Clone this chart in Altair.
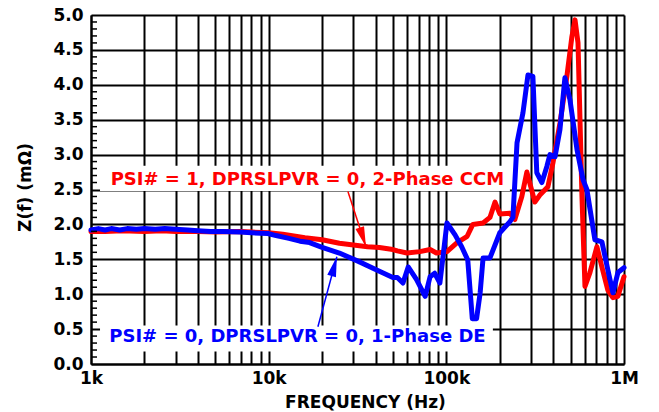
import altair as alt
import pandas as pd

# ---- series data (frequency in Hz, impedance in mOhm) ----
blue_f = [1000, 1100, 1200, 1300, 1450, 1600, 1800, 2000, 2300, 2600, 3000, 3500, 4000,
          4700, 5500, 6900, 8000, 9900, 11000, 13000, 15000, 17000, 20000, 25000, 32000,
          42000, 50000, 53000, 57000, 61000, 68000, 76000, 81000, 86000, 92000, 100800,
          112000, 122000, 132000, 140000, 148000, 155000, 161000, 176000, 200000, 228000,
          237000, 250000, 270000, 288000, 307000, 323000, 345000, 368000, 383000, 409000,
          436000, 465000, 496000, 544000, 588000, 618000, 686000, 751000, 811000, 866000,
          924000, 1000000]
blue_z = [1.92, 1.94, 1.92, 1.94, 1.92, 1.94, 1.93, 1.94, 1.93, 1.94, 1.93, 1.92, 1.91,
          1.90, 1.90, 1.89, 1.88, 1.87, 1.84, 1.80, 1.76, 1.74, 1.67, 1.59, 1.47,
          1.33, 1.24, 1.24, 1.16, 1.39, 1.21, 0.97, 1.25, 1.30, 1.16, 2.02,
          1.85, 1.68, 1.49, 0.65, 0.65, 1.02, 1.52, 1.52, 1.88, 2.04,
          2.10, 3.17, 3.60, 4.14, 4.12, 2.74, 2.60, 2.83, 3.00, 2.97,
          3.36, 4.10, 3.79, 3.07, 2.64, 2.50, 1.78, 1.75, 1.35, 1.02,
          1.31, 1.38]

red_f = [1000, 1200, 1500, 2000, 2500, 3000, 4000, 5000, 6900, 8000, 10000, 12000, 16000,
         20000, 25000, 36000, 42000, 50000, 53000, 60000, 71000, 81000, 88000, 100800,
         115000, 131000, 141000, 161000, 176000, 188000, 200000, 228000, 243000, 266000,
         284000, 315000, 336000, 373000, 398000, 436000, 477000, 509000, 530000, 551000,
         580000, 603000, 643000, 704000, 751000, 811000, 866000, 924000, 1000000]
red_z = [1.90, 1.90, 1.91, 1.90, 1.91, 1.90, 1.90, 1.89, 1.90, 1.89, 1.88, 1.86, 1.81,
         1.78, 1.73, 1.68, 1.67, 1.64, 1.62, 1.59, 1.61, 1.64, 1.59, 1.61,
         1.74, 1.83, 2.00, 2.02, 2.10, 2.32, 2.15, 2.16, 2.07, 2.40,
         2.75, 2.32, 2.42, 2.54, 2.88, 3.45, 4.12, 4.69, 4.93, 4.60,
         2.40, 1.11, 1.31, 1.68, 1.39, 1.06, 0.95, 0.97, 1.25]

# ---- axis ticks ----
x_ticks = [1000, 2000, 3000, 4000, 5000, 6000, 7000, 8000, 9000,
           10000, 20000, 30000, 40000, 50000, 60000, 70000, 80000, 90000,
           100000, 200000, 300000, 400000, 500000, 600000, 700000, 800000, 900000,
           1000000]
y_ticks = [0.0, 0.5, 1.0, 1.5, 2.0, 2.5, 3.0, 3.5, 4.0, 4.5, 5.0]
y_minor = [round(i * 0.1, 1) for i in range(1, 50) if i % 5 != 0]

# ---- annotations ----
ann_text = ["PSI# = 1, DPRSLPVR = 0, 2-Phase CCM", "PSI# = 0, DPRSLPVR = 0, 1-Phase DE"]
ann_series = ["red", "blue"]
ann_text_f = [16520, 14520]
ann_text_z = [2.64, 0.39]
box_f1 = [1124, 1124]
box_f2 = [228000, 182800]
box_z1 = [2.48, 0.18]
box_z2 = [2.84, 0.55]
arrow_f1 = [27930, 18930]
arrow_z1 = [2.47, 0.534]
arrow_f2 = [35290, 24200]
arrow_z2 = [1.68, 1.537]
arrow_angle = [161.9, 15.2]

FONT = "DejaVu Sans"

curves = pd.concat([
    pd.DataFrame({"f": red_f, "z": red_z, "s": "red"}),
    pd.DataFrame({"f": blue_f, "z": blue_z, "s": "blue"}),
])
ann = pd.DataFrame({
    "text": ann_text, "s": ann_series, "tf": ann_text_f, "tz": ann_text_z,
    "bf1": box_f1, "bf2": box_f2, "bz1": box_z1, "bz2": box_z2,
    "af1": arrow_f1, "az1": arrow_z1, "af2": arrow_f2, "az2": arrow_z2,
    "ang": arrow_angle,
})
minor = pd.DataFrame({"z": y_minor})

xs = alt.Scale(type="log", domain=[1000, 1000000], nice=False)
ys = alt.Scale(domain=[0, 5], nice=False)
cs = alt.Scale(domain=["red", "blue"], range=["#ff0000", "#0000ff"])

label_expr = ("datum.value == 1000 ? '1k' : datum.value == 10000 ? '10k' : "
              "datum.value == 100000 ? '100k' : datum.value == 1000000 ? '1M' : ''")

x_axis = alt.Axis(values=x_ticks, grid=True, gridColor="black", gridWidth=2, gridOpacity=1,
                  ticks=False, domainColor="black", domainWidth=2, labelExpr=label_expr,
                  labelFont=FONT, labelFontSize=17, labelFontWeight="bold", labelColor="black",
                  labelPadding=6, labelFlush=False, labelOverlap=False,
                  title="FREQUENCY (Hz)", titleFont=FONT, titleFontSize=17,
                  titleFontWeight="bold", titleColor="black", titleBaseline="alphabetic",
                  titleX=274, titleY=43)
y_axis = alt.Axis(values=y_ticks, format=".1f", grid=True, gridColor="black", gridWidth=2,
                  gridOpacity=1, ticks=False, domainColor="black", domainWidth=2,
                  labelFont=FONT, labelFontSize=17, labelFontWeight="bold", labelColor="black",
                  labelPadding=8, labelOverlap=False,
                  title="Z(f) (mΩ)", titleFont=FONT, titleFontSize=17, titleFontWeight="bold",
                  titleColor="black", titleBaseline="middle", titleX=-66, titleY=172)


def X(field):
    return alt.X(field, type="quantitative", scale=xs, axis=x_axis)


def Y(field):
    return alt.Y(field, type="quantitative", scale=ys, axis=y_axis)


color = alt.Color("s:N", scale=cs, legend=None)

lines = alt.Chart(curves).mark_line(strokeWidth=5, strokeJoin="round", strokeCap="round").encode(
    x=X("f"), y=Y("z"), color=color, detail="s:N", order=alt.Order("f:Q"),
)

minor_ticks = alt.Chart(minor).mark_rule(color="black", strokeWidth=1.5).encode(
    x=alt.value(0), x2=alt.value(6), y=Y("z"),
)

boxes = alt.Chart(ann).mark_rect(fill="white").encode(
    x=X("bf1"), x2="bf2:Q", y=Y("bz1"), y2="bz2:Q",
)

texts = alt.Chart(ann).mark_text(font=FONT, fontSize=18, fontWeight="bold",
                                 align="center", baseline="middle").encode(
    x=X("tf"), y=Y("tz"), text="text:N", color=color,
)

arrow_lines = alt.Chart(ann).mark_rule(strokeWidth=1.5).encode(
    x=X("af1"), x2="af2:Q", y=Y("az1"), y2="az2:Q", color=color,
)

arrow_heads = alt.Chart(ann).mark_point(shape="M0,0L0.45,2L-0.45,2Z", filled=True,
                                        size=400, opacity=1).encode(
    x=X("af2"), y=Y("az2"), angle=alt.Angle("ang:Q", scale=None), color=color,
)

chart = alt.layer(lines, minor_ticks, boxes, texts, arrow_lines, arrow_heads).properties(
    width=533, height=349,
    autosize=alt.AutoSizeParams(type="none"),
    padding={"left": 83, "top": 7, "right": 20, "bottom": 47},
).configure_view(stroke="black", strokeWidth=2).configure(background="white")

chart.save("out.html", embed_options={"renderer": "svg", "actions": False})
